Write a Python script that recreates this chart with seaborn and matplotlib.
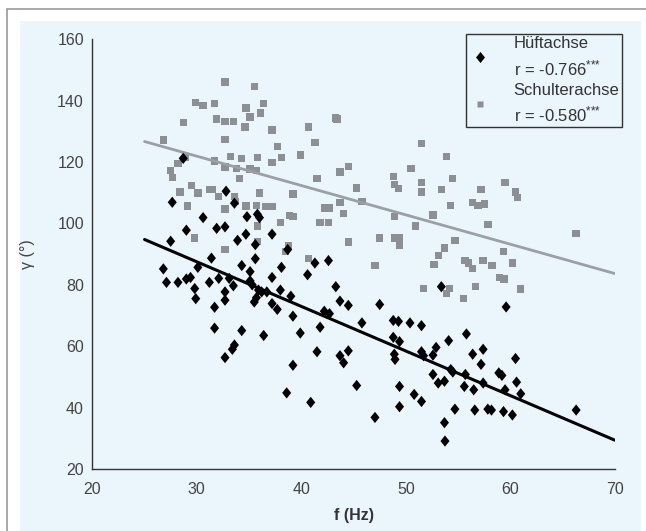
import numpy as np
import pandas as pd
import seaborn as sns
import matplotlib.pyplot as plt
from matplotlib.path import Path
from matplotlib.lines import Line2D
from matplotlib.patches import Rectangle

# Hüftachse (hip axis) - f in Hz, gamma in degrees
hip_f = [26.8, 27.5, 27.65, 28.7, 27.1, 28.2, 29.0, 29.4, 29.8, 29.9, 30.1, 29.0, 30.6,
         31.2, 31.4, 31.7, 31.7, 31.9, 32.7, 32.8, 32.7, 32.7, 32.7, 32.1, 33.1, 33.4,
         33.6, 33.6, 33.5, 33.9, 34.3, 34.3, 34.7, 34.8, 35.1, 35.1, 35.3, 35.5, 35.6,
         35.6, 35.7, 35.8, 36.0, 35.9, 36.2, 36.4, 36.7, 37.2, 37.2, 37.2, 37.7, 38.0,
         38.1, 38.6, 38.7, 39.0, 39.2, 39.2, 39.9, 40.6, 40.9, 41.3, 41.5, 41.8, 42.2,
         42.6, 42.7, 43.3, 43.7, 43.7, 44.05, 44.5, 44.5, 45.3, 45.8, 47.05, 47.5, 48.8,
         48.8, 48.9, 48.97, 49.3, 49.4, 49.4, 49.4, 50.4, 50.8, 51.5, 51.5, 51.5, 51.7,
         52.6, 52.9, 52.6, 53.1, 53.4, 53.7, 53.7, 53.75, 54.1, 54.3, 54.5, 54.7, 55.6,
         55.7, 55.8, 56.4, 56.5, 56.6, 57.2, 57.4, 57.4, 57.85, 58.2, 58.9, 59.2, 59.35,
         59.5, 59.6, 60.2, 60.5, 60.6, 61.0, 66.3]
hip_gamma = [85.2, 94.2, 106.9, 121.2, 80.8, 80.8, 81.9, 82.4, 78.8, 75.5, 85.7, 97.8, 101.9,
             80.8, 88.7, 72.7, 65.9, 98.4, 98.9, 110.5, 56.3, 77.7, 75.0, 82.1, 82.1, 59.0,
             60.4, 106.6, 79.7, 94.5, 86.3, 65.1, 96.5, 102.2, 84.3, 81.3, 80.0, 74.4, 93.1,
             88.5, 75.8, 103.0, 101.9, 78.3, 77.7, 63.5, 77.7, 96.5, 82.4, 73.9, 72.0, 78.3,
             85.7, 44.8, 91.5, 76.3, 53.8, 69.8, 64.3, 83.3, 41.7, 87.1, 58.2, 66.2, 71.4,
             87.9, 70.6, 79.4, 74.7, 56.9, 54.6, 58.5, 73.3, 47.2, 67.6, 36.8, 73.6, 68.4,
             62.9, 57.4, 55.7, 68.1, 61.5, 46.9, 40.3, 67.6, 44.3, 66.7, 42.0, 58.2, 56.9,
             57.1, 59.6, 50.8, 48.0, 79.4, 48.6, 35.1, 29.1, 61.8, 52.4, 51.6, 39.5, 46.9,
             50.8, 64.0, 57.4, 45.8, 39.2, 54.1, 59.0, 48.0, 39.5, 39.2, 51.3, 50.5, 38.7,
             45.8, 72.8, 37.6, 56.0, 48.3, 44.5, 39.2]

# Schulterachse (shoulder axis)
sh_f = [26.8, 27.5, 27.65, 28.2, 28.4, 28.7, 28.9, 29.1, 29.5, 29.9, 30.1, 29.8, 30.6, 31.2,
        31.5, 31.7, 31.7, 31.9, 32.1, 32.7, 32.7, 32.7, 32.7, 32.7, 32.7, 33.2, 33.5, 33.6,
        33.7, 33.8, 34.1, 34.3, 34.6, 34.7, 34.7, 35.1, 35.1, 35.5, 35.7, 35.7, 35.8, 35.8,
        35.8, 36.0, 36.1, 36.4, 36.6, 37.2, 37.2, 37.2, 37.7, 38.0, 38.1, 38.5, 38.8, 38.85,
        39.2, 39.2, 39.9, 40.7, 40.7, 41.3, 41.5, 41.8, 42.2, 42.6, 42.7, 43.3, 43.4, 43.7,
        43.7, 44.05, 44.5, 44.5, 45.3, 45.8, 47.05, 47.5, 48.8, 48.9, 48.9, 48.97, 49.3,
        49.4, 49.4, 50.5, 50.9, 51.5, 51.5, 51.5, 51.7, 52.6, 52.7, 53.1, 53.4, 53.7, 53.9,
        53.9, 54.2, 54.3, 54.5, 54.7, 55.5, 55.65, 56.0, 56.4, 56.4, 56.7, 56.9, 57.2, 57.4,
        57.5, 57.85, 58.25, 58.95, 59.35, 59.4, 59.5, 60.2, 60.5, 60.7, 61.0, 66.3]
sh_gamma = [127.2, 117.3, 114.9, 119.5, 110.2, 132.9, 121.5, 105.7, 112.4, 139.5, 109.9, 95.3,
            138.4, 111.0, 111.0, 139.1, 120.4, 134.0, 108.8, 146.1, 133.3, 127.4, 118.4, 104.7,
            91.5, 121.9, 133.3, 108.8, 107.2, 117.9, 114.6, 121.2, 131.4, 137.6, 105.7, 134.7,
            117.7, 144.6, 105.8, 117.3, 121.5, 99.2, 94.2, 109.9, 136.0, 139.1, 105.5, 130.5,
            119.8, 105.5, 125.0, 100.3, 121.5, 90.9, 92.6, 102.5, 102.2, 109.6, 122.3, 131.4,
            88.5, 126.3, 114.6, 100.3, 105.0, 100.3, 105.0, 134.4, 134.0, 106.9, 116.8, 103.3,
            118.6, 94.0, 111.6, 107.2, 86.3, 95.3, 115.3, 112.7, 102.2, 95.3, 111.3, 95.3, 92.9,
            117.9, 99.2, 126.1, 113.4, 110.2, 78.8, 102.8, 86.7, 89.6, 111.0, 92.0, 121.9, 77.2,
            78.8, 105.8, 114.6, 94.5, 75.5, 87.9, 87.1, 85.4, 106.9, 79.4, 105.8, 111.0, 87.9,
            106.3, 99.7, 86.3, 82.4, 90.9, 81.9, 113.4, 87.1, 110.2, 108.5, 78.6, 96.7]

# regression lines (slope, intercept), drawn over f = 25..70 Hz
fit_range = [25, 70]
hip_fit = (-1.453, 131.1)
sh_fit = (-0.956, 150.6)

labels = ['Hüftachse\nr = -0.766$^{{*}{*}{*}}$', 'Schulterachse\nr = -0.580$^{{*}{*}{*}}$']

bg = '#eaf5fc'
grey = '#8c9095'
txt = '#444444'

sns.set_theme(style='white')
plt.rcParams['font.family'] = ['Liberation Sans', 'DejaVu Sans']
plt.rcParams['mathtext.fontset'] = 'custom'
plt.rcParams['mathtext.rm'] = 'Liberation Sans'
plt.rcParams['mathtext.it'] = 'Liberation Sans'

fig = plt.figure(figsize=(6.46, 5.31), dpi=100, facecolor='white')
W, H = 646, 531
# outer frame and light blue panel behind the axes
fig.patches.append(Rectangle((6.5 / W, -1), 2, (H - 8.5) / H + 1, transform=fig.transFigure,
                             facecolor='none', edgecolor='#999999', lw=1.2, zorder=-2))
fig.patches.append(Rectangle((20 / W, 0), 621 / W, (H - 21) / H, transform=fig.transFigure,
                             facecolor=bg, edgecolor='none', zorder=-1))

ax = fig.add_axes([92.3 / W, 1 - 469 / H, (614.8 - 92.3) / W, (469 - 39.3) / H])
ax.set_facecolor(bg)

diamond = Path([(0, 1), (0.8, 0), (0, -1), (-0.8, 0), (0, 1)],
               [Path.MOVETO, Path.LINETO, Path.LINETO, Path.LINETO, Path.CLOSEPOLY])

hip = pd.DataFrame({'f': hip_f, 'gamma': hip_gamma})
sh = pd.DataFrame({'f': sh_f, 'gamma': sh_gamma})

sns.scatterplot(data=sh, x='f', y='gamma', marker='s', s=28, color=grey,
                edgecolor='none', linewidth=0, ax=ax, zorder=2)
sns.scatterplot(data=hip, x='f', y='gamma', marker=diamond, s=66, color='black',
                edgecolor='none', linewidth=0, ax=ax, zorder=3)

xs = np.array(fit_range, dtype=float)
sns.lineplot(x=xs, y=sh_fit[0] * xs + sh_fit[1], color='#9aa0a5', lw=2, ax=ax, zorder=2)
sns.lineplot(x=xs, y=hip_fit[0] * xs + hip_fit[1], color='black', lw=2.2, ax=ax, zorder=4)

ax.set_xlim(20, 70)
ax.set_ylim(20, 160)
ax.set_xticks(range(20, 71, 10))
ax.set_yticks(range(20, 161, 20))
for s in ['top', 'right']:
    ax.spines[s].set_visible(False)
for s in ['left', 'bottom']:
    ax.spines[s].set_color('#333333')
    ax.spines[s].set_linewidth(1)
ax.tick_params(direction='in', length=5, width=1, color='#333333', labelsize=11.5,
               labelcolor=txt, pad=6)
ax.tick_params(axis='x', pad=9)
ax.set_xlabel('f (Hz)', fontsize=11.5, fontweight='bold', color='#333333', labelpad=8)
ax.set_ylabel('γ (°)', fontsize=11.5, color=txt, labelpad=16)

handles = [Line2D([], [], ls='none', marker=diamond, color='black', markersize=8, mec='none'),
           Line2D([], [], ls='none', marker='s', color=grey, markersize=4.5, mec='none')]
leg = fig.legend(handles, labels, loc='upper right', bbox_to_anchor=(622 / W, 1 - 34 / H),
                 bbox_transform=fig.transFigure, frameon=True, fancybox=False,
                 facecolor=bg, edgecolor='#333333', framealpha=1, fontsize=12,
                 handlelength=1.4, handletextpad=1.3, labelspacing=0.3, borderpad=0.15,
                 borderaxespad=0)
leg.get_frame().set_linewidth(1)
for t in leg.get_texts():
    t.set_color('#333333')
    t.set_linespacing(1.4)

fig.savefig('out.png', dpi=100, facecolor='white')
